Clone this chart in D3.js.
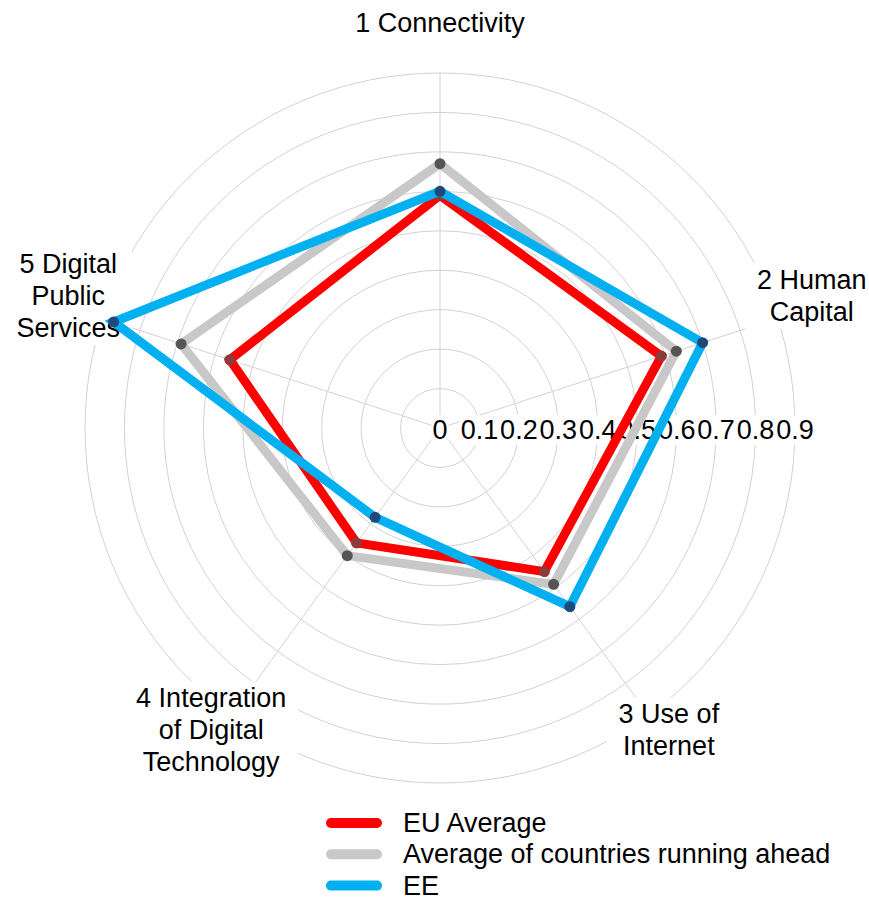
<!DOCTYPE html>
<html><head><meta charset="utf-8">
<script src="https://cdn.jsdelivr.net/npm/d3@7"></script>
<style>
body{margin:0;background:#fff}
svg{display:block}
text{font-family:"Liberation Sans",Arial,Helvetica,sans-serif;fill:#000}
</style>
</head><body>
<svg id="chart" width="869" height="900"></svg>
<script>
// ---- data ----
const categories = ["1 Connectivity", "2 Human Capital", "3 Use of Internet", "4 Integration of Digital Technology", "5 Digital Public Services"];
const categoryLines = [["1 Connectivity"], ["2 Human", "Capital"], ["3 Use of", "Internet"], ["4 Integration", "of Digital", "Technology"], ["5 Digital", "Public", "Services"]];
const seriesNames = ["EU Average", "Average of countries running ahead", "EE"];
const euAverage = [0.59, 0.59, 0.45, 0.36, 0.56];
const aheadAverage = [0.67, 0.63, 0.49, 0.40, 0.69];
const eeValues = [0.60, 0.70, 0.56, 0.28, 0.87];
const tickValues = [0, 0.1, 0.2, 0.3, 0.4, 0.5, 0.6, 0.7, 0.8, 0.9];
const tickLabels = ["0", "0.1", "0.2", "0.3", "0.4", "0.5", "0.6", "0.7", "0.8", "0.9"];
const lineColors = ["#ff0000", "#c8c8c8", "#00b0f0"];
const markerColors = ["#8e3a3a", "#555555", "#1f497d"];

const series = [euAverage, aheadAverage, eeValues].map((v, i) => ({name: seriesNames[i], values: v, color: lineColors[i], marker: markerColors[i]}));

// ---- layout ----
const svg = d3.select("#chart");
const cx = 440, cy = 428;
const FS = 27;
const r = d3.scaleLinear().domain([0, 0.9]).range([0, 355]);
const angle = d3.scaleLinear().domain([0, categories.length]).range([0, 2 * Math.PI]);

const g = svg.append("g").attr("transform", `translate(${cx},${cy})`);

// grid rings
g.append("g").selectAll("circle").data(tickValues.filter(v => v > 0)).join("circle")
  .attr("r", d => r(d)).attr("fill", "none").attr("stroke", "#d2d2d2").attr("stroke-width", 1);

// spokes
g.append("g").selectAll("line").data(categories).join("line")
  .attr("x1", 0).attr("y1", 0)
  .attr("x2", (d, i) => r(0.9) * Math.sin(angle(i)))
  .attr("y2", (d, i) => -r(0.9) * Math.cos(angle(i)))
  .attr("stroke", "#d2d2d2").attr("stroke-width", 1);

// axis labels with white background
const labG = g.append("g");
categories.forEach((c, i) => {
  const a = angle(i);
  const sa = Math.sin(a), ca = Math.cos(a);
  const lr = r(0.9) * 1.1 + 15 * ca;
  const lx = lr * sa - 13.6 * sa * ca;
  const ly = -lr * ca - 11 * sa * sa;
  const lines = categoryLines[i];
  const grp = labG.append("g");
  const t = grp.append("text").attr("text-anchor", "middle").style("font-size", FS + "px");
  lines.forEach((ln, j) => {
    t.append("tspan").attr("x", lx).attr("y", ly + (j - (lines.length - 1) / 2) * 32 + 9).text(ln);
  });
  const bb = t.node().getBBox();
  grp.insert("rect", "text").attr("x", bb.x - 12).attr("y", bb.y - 2)
    .attr("width", bb.width + 24).attr("height", bb.height + 4).attr("fill", "#fff");
});

// tick labels along the horizontal
const tickG = g.append("g");
tickValues.forEach((v, i) => {
  const grp = tickG.append("g");
  const t = grp.append("text").attr("x", r(v)).attr("y", 11).attr("text-anchor", "middle")
    .style("font-size", FS + "px").text(tickLabels[i]);
  const bb = t.node().getBBox();
  grp.insert("rect", "text").attr("x", bb.x - 1).attr("y", bb.y)
    .attr("width", bb.width + 2).attr("height", bb.height).attr("fill", "#fff");
});

// series
const radial = d3.lineRadial().angle((d, i) => angle(i)).radius(d => r(d)).curve(d3.curveLinearClosed);
series.forEach(s => {
  const sg = g.append("g");
  sg.append("path").attr("d", radial(s.values)).attr("fill", "none")
    .attr("stroke", s.color).attr("stroke-width", 9).attr("stroke-linejoin", "miter");
  sg.selectAll("circle").data(s.values).join("circle")
    .attr("cx", (d, i) => r(d) * Math.sin(angle(i)))
    .attr("cy", (d, i) => -r(d) * Math.cos(angle(i)))
    .attr("r", 5.5).attr("fill", s.marker);
});

// legend
const leg = svg.append("g").attr("transform", "translate(331,823)");
series.forEach((s, i) => {
  const row = leg.append("g").attr("transform", `translate(0,${i * 31.3})`);
  row.append("line").attr("x1", 0).attr("x2", 46).attr("y1", 0).attr("y2", 0)
    .attr("stroke", s.color).attr("stroke-width", 10).attr("stroke-linecap", "round");
  row.append("text").attr("x", 72).attr("y", 9).style("font-size", FS + "px").text(s.name);
});
</script>
</body></html>
